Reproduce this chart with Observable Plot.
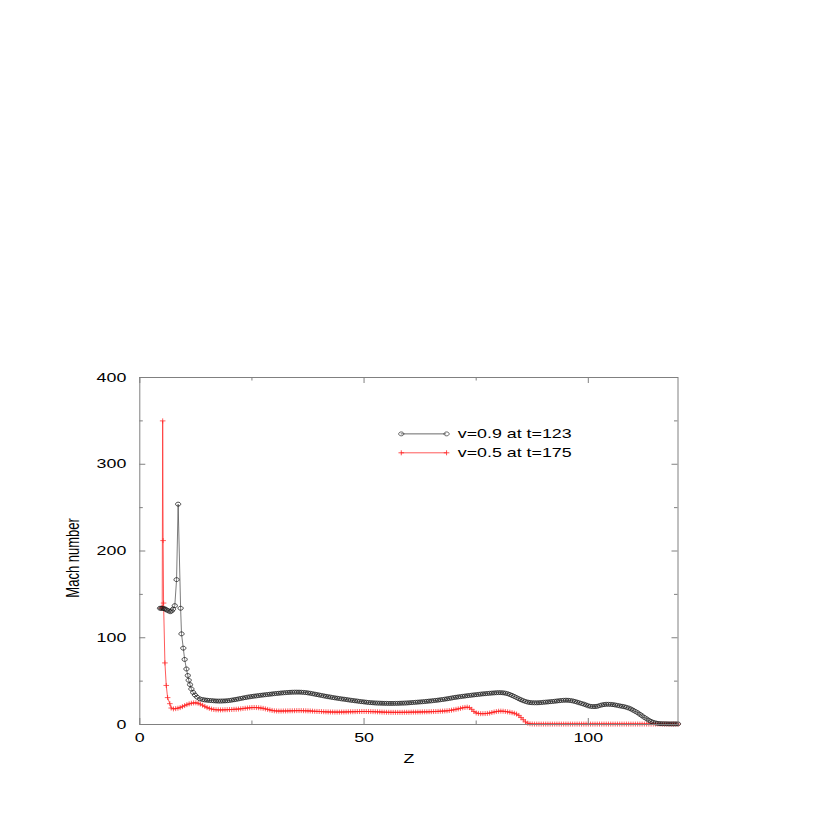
<!DOCTYPE html>
<html>
<head>
<meta charset="utf-8">
<script src="https://cdn.jsdelivr.net/npm/d3@7"></script>
<script src="https://cdn.jsdelivr.net/npm/@observablehq/plot@0.6"></script>
<style>
  html, body { margin: 0; padding: 0; background: #fff; }
  #chart svg { display: block; background: #fff; }
</style>
</head>
<body>
<div id="chart"></div>
<script>
// ---------- data ----------
const seriesLabels = ["v=0.9 at t=123", "v=0.5 at t=175"];

// v=0.9 (black circles): near-jet head, irregular spacing
const blackHeadZ = [4.5, 4.8, 5.1, 5.4, 5.7, 6.0, 6.4, 6.8, 7.1, 7.4, 7.8, 8.2, 8.55, 9.1, 9.3, 9.7, 10.0, 10.4, 10.7, 10.9, 11.2, 11.5, 11.9, 12.3, 12.8, 13.4];
const blackHeadM = [134, 134, 134, 133.5, 133, 132, 131, 130, 131, 133, 137, 167, 254, 134, 104.5, 88, 75, 64, 56.5, 51, 46, 41, 37, 34, 31.5, 29.5];

// v=0.5 (red crosses): head
const redHeadZ = [4.8, 5.0, 5.1, 5.2, 5.3, 5.6, 5.9, 6.2, 6.7, 7.0, 7.5, 8.0, 8.5, 9.0, 9.5, 10.0, 10.5, 11.0, 11.5, 12.0, 12.5, 13.0, 13.5];
const redHeadM = [134, 135, 350, 212, 140, 71, 45, 31, 24, 19, 18, 18.3, 18.8, 19.5, 20.6, 21.8, 22.9, 23.8, 24.5, 24.9, 25.0, 24.5, 23.5];

// common sampling positions of the tails (Z = 14 ... 120)
const tailZ = [
  14, 14.5, 15, 15.5, 16, 16.5, 17, 17.5, 18, 18.5,
  19, 19.5, 20, 20.5, 21, 21.5, 22, 22.5, 23, 23.5,
  24, 24.5, 25, 25.5, 26, 26.5, 27, 27.5, 28, 28.5,
  29, 29.5, 30, 30.5, 31, 31.5, 32, 32.5, 33, 33.5,
  34, 34.5, 35, 35.5, 36, 36.5, 37, 37.5, 38, 38.5,
  39, 39.5, 40, 40.5, 41, 41.5, 42, 42.5, 43, 43.5,
  44, 44.5, 45, 45.5, 46, 46.5, 47, 47.5, 48, 48.5,
  49, 49.5, 50, 50.5, 51, 51.5, 52, 52.5, 53, 53.5,
  54, 54.5, 55, 55.5, 56, 56.5, 57, 57.5, 58, 58.5,
  59, 59.5, 60, 60.5, 61, 61.5, 62, 62.5, 63, 63.5,
  64, 64.5, 65, 65.5, 66, 66.5, 67, 67.5, 68, 68.5,
  69, 69.5, 70, 70.5, 71, 71.5, 72, 72.5, 73, 73.5,
  74, 74.5, 75, 75.5, 76, 76.5, 77, 77.5, 78, 78.5,
  79, 79.5, 80, 80.5, 81, 81.5, 82, 82.5, 83, 83.5,
  84, 84.5, 85, 85.5, 86, 86.5, 87, 87.5, 88, 88.5,
  89, 89.5, 90, 90.5, 91, 91.5, 92, 92.5, 93, 93.5,
  94, 94.5, 95, 95.5, 96, 96.5, 97, 97.5, 98, 98.5,
  99, 99.5, 100, 100.5, 101, 101.5, 102, 102.5, 103, 103.5,
  104, 104.5, 105, 105.5, 106, 106.5, 107, 107.5, 108, 108.5,
  109, 109.5, 110, 110.5, 111, 111.5, 112, 112.5, 113, 113.5,
  114, 114.5, 115, 115.5, 116, 116.5, 117, 117.5, 118, 118.5,
  119, 119.5, 120
];

const blackTailM = [
  28.8, 28.3, 28.0, 27.7, 27.5, 27.3, 27.1, 27.0, 27.0, 27.1,
  27.2, 27.4, 27.7, 28.1, 28.5, 29.0, 29.5, 30.0, 30.5, 31.0,
  31.5, 31.9, 32.3, 32.7, 33.0, 33.3, 33.7, 34.0, 34.3, 34.6,
  34.9, 35.2, 35.5, 35.8, 36.0, 36.3, 36.5, 36.7, 36.9, 37.1,
  37.2, 37.3, 37.3, 37.3, 37.2, 37.0, 36.8, 36.4, 36.0, 35.5,
  35.0, 34.5, 34.0, 33.5, 33.0, 32.5, 32.0, 31.6, 31.1, 30.7,
  30.3, 29.9, 29.5, 29.2, 28.8, 28.4, 28.0, 27.7, 27.3, 27.0,
  26.6, 26.3, 26.0, 25.7, 25.4, 25.2, 25.0, 24.8, 24.7, 24.6,
  24.5, 24.4, 24.4, 24.3, 24.3, 24.3, 24.4, 24.4, 24.5, 24.6,
  24.7, 24.8, 25.0, 25.2, 25.4, 25.6, 25.8, 26.0, 26.2, 26.4,
  26.7, 27.0, 27.2, 27.5, 27.8, 28.1, 28.5, 28.8, 29.2, 29.6,
  30.1, 30.5, 31.0, 31.4, 31.8, 32.1, 32.5, 32.8, 33.2, 33.5,
  33.8, 34.1, 34.4, 34.7, 35.0, 35.3, 35.5, 35.8, 36.0, 36.2,
  36.4, 36.6, 36.7, 36.7, 36.5, 36.1, 35.5, 34.6, 33.5, 32.3,
  31.0, 29.7, 28.5, 27.4, 26.5, 25.8, 25.3, 25.1, 25.0, 25.0,
  25.1, 25.3, 25.6, 25.8, 26.0, 26.3, 26.5, 26.8, 27.1, 27.4,
  27.7, 27.9, 28.0, 27.9, 27.6, 27.2, 26.6, 25.8, 25.0, 24.2,
  23.5, 22.5, 21.5, 20.9, 20.7, 20.7, 21.0, 21.8, 22.5, 23.0,
  23.3, 23.3, 23.2, 22.9, 22.5, 22.0, 21.5, 21.0, 20.5, 19.8,
  19.0, 17.9, 16.5, 15.1, 13.5, 11.8, 10.0, 8.2, 6.5, 4.9,
  3.5, 2.5, 1.8, 1.3, 1.0, 0.9, 0.8, 0.8, 0.7, 0.7,
  0.7, 0.7, 0.7
];

const redTailM = [
  22.2, 20.8, 19.5, 18.6, 17.8, 17.3, 17.0, 16.9, 16.8, 16.9,
  17.0, 17.1, 17.2, 17.3, 17.5, 17.6, 17.8, 18.1, 18.4, 18.7,
  19.0, 19.3, 19.5, 19.6, 19.5, 19.3, 19.0, 18.6, 18.0, 17.4,
  16.8, 16.2, 15.8, 15.6, 15.5, 15.5, 15.6, 15.6, 15.7, 15.8,
  15.8, 15.9, 16.0, 16.0, 16.0, 15.9, 15.8, 15.7, 15.6, 15.4,
  15.2, 15.1, 15.0, 14.9, 14.7, 14.6, 14.5, 14.4, 14.4, 14.3,
  14.3, 14.3, 14.4, 14.4, 14.5, 14.6, 14.7, 14.7, 14.8, 14.9,
  14.9, 15.0, 15.0, 15.0, 14.9, 14.9, 14.8, 14.7, 14.6, 14.5,
  14.3, 14.2, 14.1, 14.1, 14.0, 14.0, 14.0, 14.0, 14.0, 14.0,
  14.1, 14.1, 14.1, 14.2, 14.3, 14.3, 14.4, 14.4, 14.5, 14.6,
  14.6, 14.7, 14.8, 14.9, 15.0, 15.1, 15.3, 15.4, 15.6, 15.8,
  16.1, 16.5, 17.0, 17.5, 18.0, 18.6, 19.3, 19.7, 20.0, 19.5,
  17.5, 15.0, 13.3, 12.8, 12.5, 12.5, 12.6, 12.8, 13.2, 13.8,
  14.4, 14.9, 15.3, 15.4, 15.3, 15.0, 14.6, 14.2, 13.6, 13.0,
  12.0, 10.5, 8.0, 5.5, 3.0, 1.5, 0.8, 0.6, 0.5, 0.5,
  0.5, 0.5, 0.5, 0.5, 0.5, 0.5, 0.5, 0.5, 0.5, 0.5,
  0.5, 0.5, 0.5, 0.5, 0.5, 0.5, 0.5, 0.5, 0.5, 0.5,
  0.5, 0.5, 0.5, 0.5, 0.5, 0.5, 0.5, 0.5, 0.5, 0.5,
  0.5, 0.5, 0.5, 0.5, 0.5, 0.5, 0.5, 0.5, 0.5, 0.5,
  0.5, 0.5, 0.5, 0.5, 0.5, 0.5, 0.5, 0.5, 0.5, 0.5,
  0.5, 0.5, 0.5, 0.5, 0.5, 0.5, 0.5, 0.5, 0.5, 0.5,
  0.5, 0.5, 0.5
];

// axis ticks
const xMajorTicks = [0, 50, 100];
const xMinorTicks = [25, 75];
const yMajorTicks = [0, 100, 200, 300, 400];
const yMinorTicks = [50, 150, 250, 350];
const xTitle = "Z";
const yTitle = "Mach number";

// ---------- build tables ----------
const black = blackHeadZ.map((z, i) => ({z, m: blackHeadM[i]}))
  .concat(tailZ.map((z, i) => ({z, m: blackTailM[i]})));
const red = redHeadZ.map((z, i) => ({z, m: redHeadM[i]}))
  .concat(tailZ.map((z, i) => ({z, m: redTailM[i]})));

// ---------- layout ----------
const W = 817, H = 817;
const mL = 139.3, mR = 817 - 677.5, mT = 377, mB = 817 - 724;
const xDom = [0, 120], yDom = [0, 400];
const plotW = W - mL - mR, plotH = H - mT - mB;
const px2x = p => p * (xDom[1] - xDom[0]) / plotW;   // pixel length -> Z units
const px2y = p => p * (yDom[1] - yDom[0]) / plotH;   // pixel length -> Mach units
const majorLen = 6, minorLen = 3.5;
const axisColor = "#808080";
const FS = 13;        // font size
const STRETCH = 1.37; // horizontal stretch of the glyphs in the original

// custom marker shapes (slightly wide, like the original)
const ovalSymbol = {draw(ctx) {
  const rx = 2.6, ry = 1.95, k = 0.5523;
  ctx.moveTo(rx, 0);
  ctx.bezierCurveTo(rx, ry * k, rx * k, ry, 0, ry);
  ctx.bezierCurveTo(-rx * k, ry, -rx, ry * k, -rx, 0);
  ctx.bezierCurveTo(-rx, -ry * k, -rx * k, -ry, 0, -ry);
  ctx.bezierCurveTo(rx * k, -ry, rx, -ry * k, rx, 0);
  ctx.closePath();
}};
const plusSymbol = {draw(ctx) {
  ctx.moveTo(-2.8, 0); ctx.lineTo(2.8, 0);
  ctx.moveTo(0, -2.5); ctx.lineTo(0, 2.5);
}};

// legend (positions inside the frame, in data units)
const legendRows = [
  {label: seriesLabels[0], y: 335, stroke: "#444", dot: "#222", symbol: ovalSymbol},
  {label: seriesLabels[1], y: 313.2, stroke: "#ff3030", dot: "#ff2020", symbol: plusSymbol}
];
const legX1 = 58.3, legX2 = 68.4, legTextX = 70.9;
const legendEnds = legendRows.flatMap(r => [{...r, x: legX1}, {...r, x: legX2}]);

const tickRules = [
  Plot.ruleX(xMajorTicks, {x: d => d, y1: yDom[0], y2: yDom[0] + px2y(majorLen), stroke: axisColor}),
  Plot.ruleX(xMajorTicks, {x: d => d, y1: yDom[1] - px2y(majorLen), y2: yDom[1], stroke: axisColor}),
  Plot.ruleX(xMinorTicks, {x: d => d, y1: yDom[0], y2: yDom[0] + px2y(minorLen), stroke: axisColor}),
  Plot.ruleX(xMinorTicks, {x: d => d, y1: yDom[1] - px2y(minorLen), y2: yDom[1], stroke: axisColor}),
  Plot.ruleY(yMajorTicks, {y: d => d, x1: xDom[0], x2: xDom[0] + px2x(majorLen), stroke: axisColor}),
  Plot.ruleY(yMajorTicks, {y: d => d, x1: xDom[1] - px2x(majorLen), x2: xDom[1], stroke: axisColor}),
  Plot.ruleY(yMinorTicks, {y: d => d, x1: xDom[0], x2: xDom[0] + px2x(minorLen), stroke: axisColor}),
  Plot.ruleY(yMinorTicks, {y: d => d, x1: xDom[1] - px2x(minorLen), x2: xDom[1], stroke: axisColor})
];

const chart = Plot.plot({
  width: W, height: H,
  marginLeft: mL, marginRight: mR, marginTop: mT, marginBottom: mB,
  style: {fontFamily: "'Liberation Sans', Arial, sans-serif", fontSize: FS + "px", background: "#fff", color: "#000"},
  x: {domain: xDom, axis: null},
  y: {domain: yDom, axis: null},
  marks: [
    // data
    Plot.line(red, {x: "z", y: "m", stroke: "#ff3030", strokeWidth: 0.8}),
    Plot.dot(red, {x: "z", y: "m", symbol: plusSymbol, r: 3, stroke: "#ff2020", strokeWidth: 0.85, fill: "none", strokeOpacity: 0.85}),
    Plot.line(black, {x: "z", y: "m", stroke: "#444", strokeWidth: 0.7}),
    Plot.dot(black, {x: "z", y: "m", symbol: ovalSymbol, r: 2.6, stroke: "#1a1a1a", strokeWidth: 0.8, fill: "none"}),
    // frame and ticks
    Plot.frame({stroke: axisColor, strokeWidth: 1}),
    ...tickRules,
    // tick labels
    Plot.text(xMajorTicks, {x: d => d, y: () => yDom[0], text: d => String(d), dy: 17, lineAnchor: "bottom", textAnchor: "middle", fontSize: FS, fill: "#000", className: "hlab"}),
    Plot.text(yMajorTicks, {x: () => xDom[0], y: d => d, text: d => String(d), dx: -13.5, lineAnchor: "middle", textAnchor: "end", fontSize: FS, fill: "#000", className: "hlab"}),
    // axis titles
    Plot.text([xTitle], {x: () => 60, y: () => yDom[0], text: d => d, dy: 38, lineAnchor: "bottom", textAnchor: "middle", fontSize: FS, fill: "#000", className: "hlab"}),
    Plot.text([yTitle], {x: () => xDom[0], y: () => 192, text: d => d, dx: -67, rotate: -90, lineAnchor: "middle", textAnchor: "middle", fontSize: FS, fill: "#000", className: "vlab"}),
    // legend
    Plot.ruleY(legendRows, {y: "y", x1: () => legX1, x2: () => legX2, stroke: "stroke", strokeWidth: 0.8}),
    Plot.dot(legendEnds, {x: "x", y: "y", symbol: ovalSymbol, r: 2.6, stroke: "dot", strokeWidth: 0.7, fill: "none", filter: d => d.symbol === ovalSymbol}),
    Plot.dot(legendEnds, {x: "x", y: "y", symbol: plusSymbol, r: 3, stroke: "dot", strokeWidth: 0.8, fill: "none", filter: d => d.symbol === plusSymbol}),
    Plot.text(legendRows, {x: () => legTextX, y: "y", text: "label", lineAnchor: "middle", textAnchor: "start", fontSize: FS, fill: "#000", className: "hlab"})
  ]
});

document.getElementById("chart").appendChild(chart);

// stretch glyphs horizontally (the original lettering is wider than tall)
function stretchText(t, sx, sy) {
  let tr = t.getAttribute("transform");
  if (!tr) {
    const x = +t.getAttribute("x") || 0, y = +t.getAttribute("y") || 0;
    t.removeAttribute("x"); t.removeAttribute("y");
    tr = `translate(${x},${y})`;
  }
  t.setAttribute("transform", tr + ` scale(${sx},${sy})`);
}
chart.querySelectorAll(".hlab text").forEach(t => stretchText(t, STRETCH, 1));
chart.querySelectorAll(".vlab text").forEach(t => stretchText(t, 1, STRETCH));
</script>
</body>
</html>
